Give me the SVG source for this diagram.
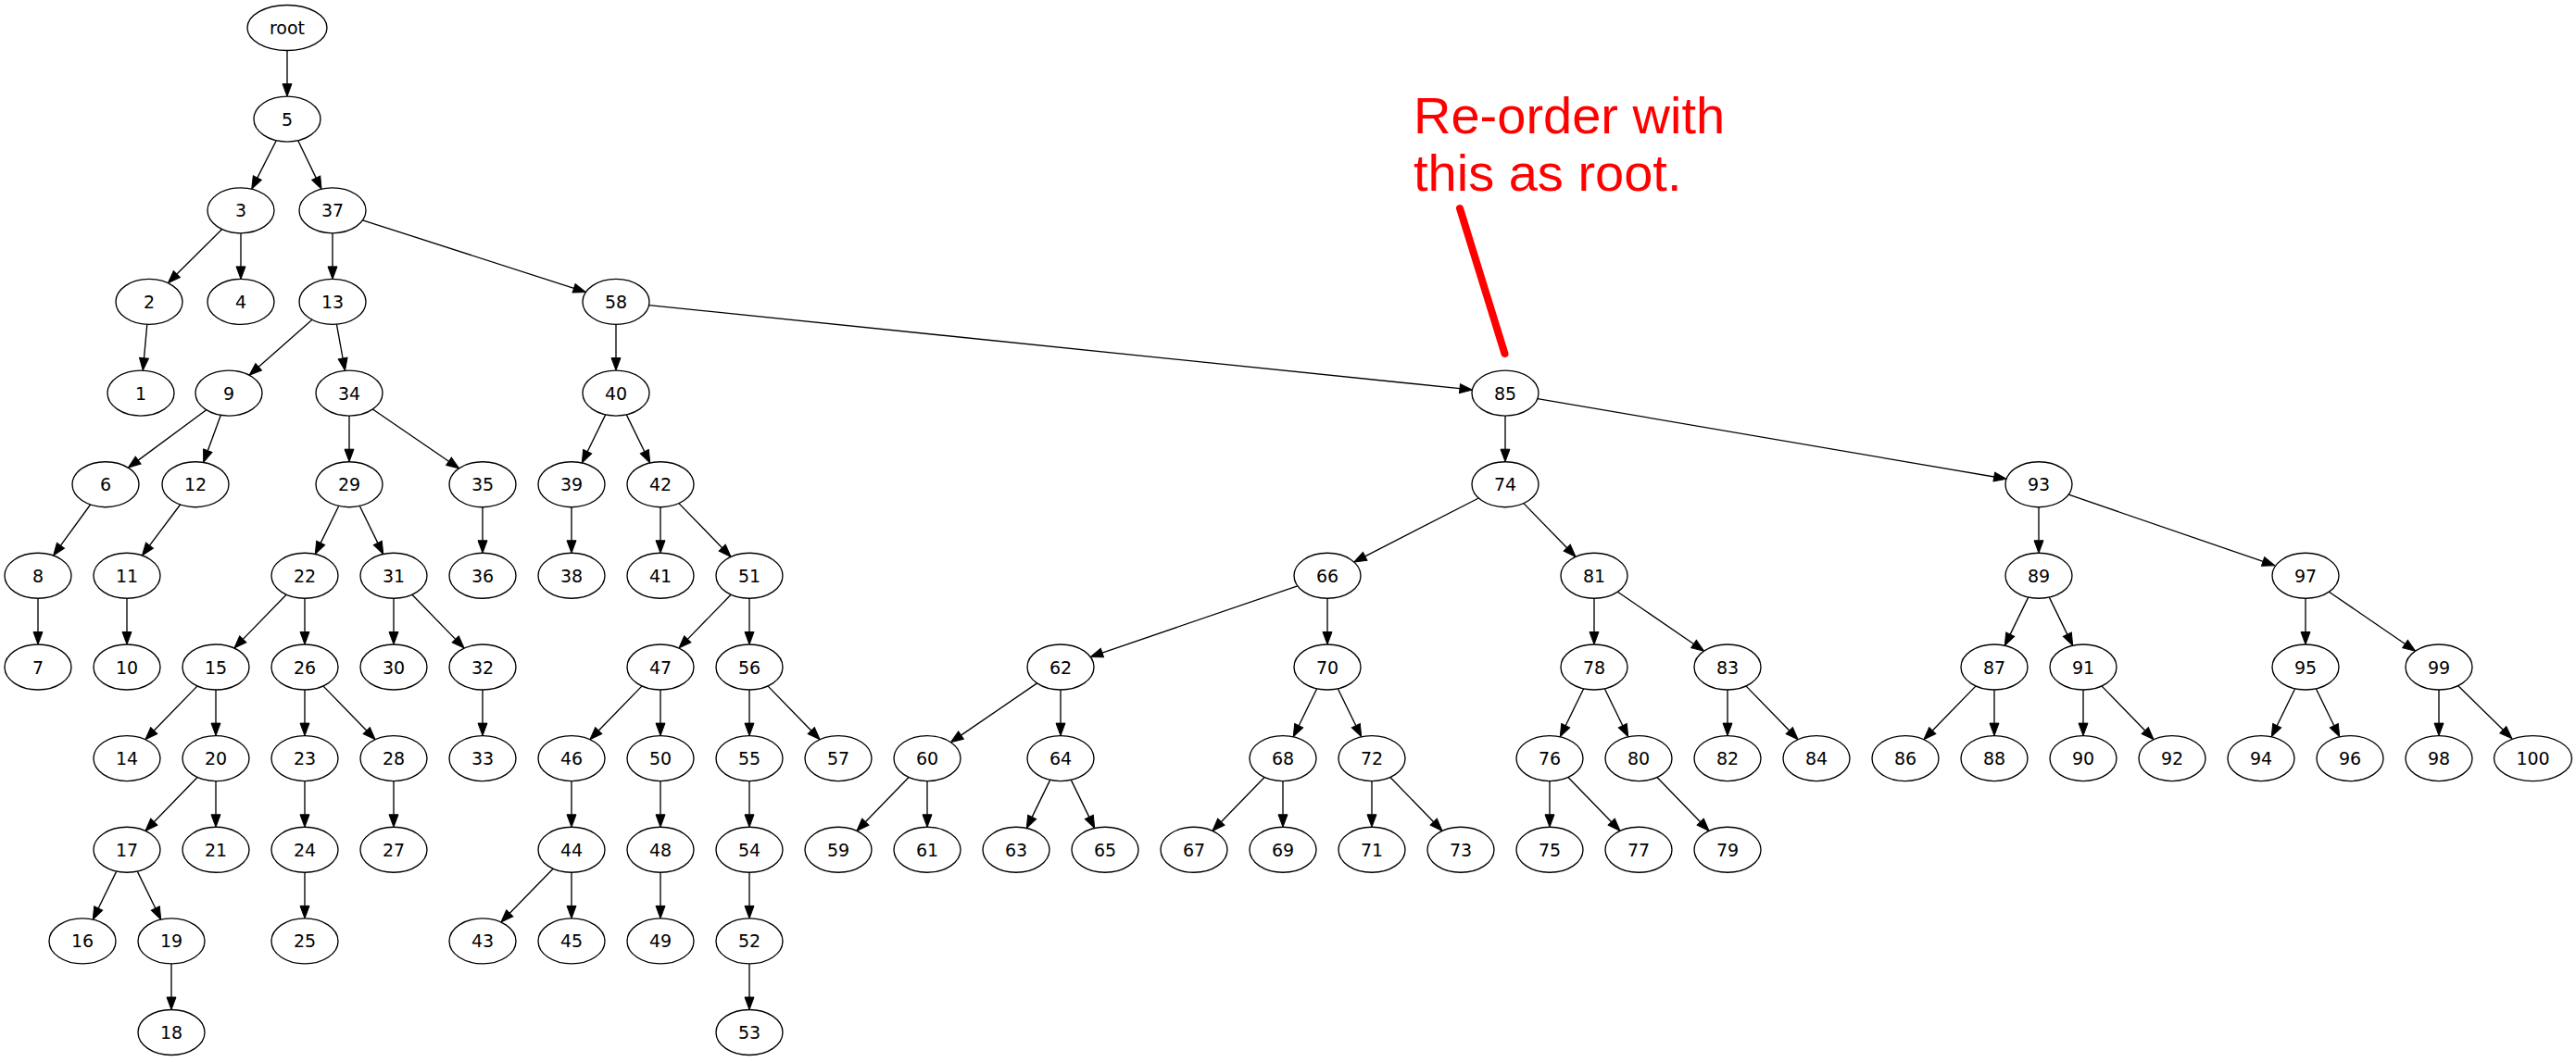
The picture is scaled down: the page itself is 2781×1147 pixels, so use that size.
<svg xmlns="http://www.w3.org/2000/svg" width="2781" height="1147" viewBox="0 0 2781 1147">
<style>
.n ellipse{fill:#fff;stroke:#000;stroke-width:1.35}
.n text{font-family:"DejaVu Sans",sans-serif;font-size:19px;text-anchor:middle;fill:#000}
#edges line{stroke:#000;stroke-width:1.35;marker-end:url(#arr)}
.note{font-family:"Liberation Sans",Arial,sans-serif;font-size:56px;fill:#ff0000}
</style>
<defs>
<marker id="arr" markerUnits="userSpaceOnUse" viewBox="0 -6 14 12" markerWidth="14" markerHeight="12" refX="0" refY="0" orient="auto" overflow="visible">
<path d="M0,-5 L13.5,0 L0,5 Z" fill="#000" stroke="#000" stroke-width="1"/>
</marker>
</defs>
<rect width="2781" height="1147" fill="#fff"/>
<g id="edges">
<line x1="310" y1="54.5" x2="310" y2="90.6"/>
<line x1="298.3" y1="151.8" x2="277.8" y2="192.1"/>
<line x1="321.7" y1="151.8" x2="341.2" y2="192.1"/>
<line x1="239.7" y1="247.5" x2="190.9" y2="296.1"/>
<line x1="260" y1="251.8" x2="260" y2="287.9"/>
<line x1="359" y1="251.8" x2="359" y2="287.9"/>
<line x1="391.5" y1="237.8" x2="619.6" y2="311.3"/>
<line x1="158.8" y1="350.4" x2="155.5" y2="386.7"/>
<line x1="337" y1="345.3" x2="279.2" y2="396.3"/>
<line x1="363.4" y1="350.2" x2="370.1" y2="387"/>
<line x1="665" y1="350.4" x2="665" y2="386.6"/>
<line x1="700.6" y1="329.6" x2="1576" y2="419.6"/>
<line x1="222.7" y1="442.7" x2="149.2" y2="497.1"/>
<line x1="238.3" y1="448.4" x2="224.3" y2="486.7"/>
<line x1="377" y1="449.1" x2="377" y2="485.2"/>
<line x1="402.4" y1="442" x2="484.5" y2="498.2"/>
<line x1="653.7" y1="447.9" x2="634.2" y2="487.8"/>
<line x1="676.3" y1="447.9" x2="695.8" y2="487.8"/>
<line x1="1625" y1="449.1" x2="1625" y2="485.2"/>
<line x1="1659.9" y1="430.6" x2="2152.8" y2="515"/>
<line x1="97.6" y1="545" x2="65.5" y2="589.2"/>
<line x1="194.6" y1="545" x2="161.5" y2="589.2"/>
<line x1="365.7" y1="546.5" x2="346.2" y2="586.4"/>
<line x1="388.3" y1="546.5" x2="407.8" y2="586.4"/>
<line x1="521" y1="547.7" x2="521" y2="583.8"/>
<line x1="617" y1="547.7" x2="617" y2="583.8"/>
<line x1="713" y1="547.7" x2="713" y2="583.8"/>
<line x1="732.9" y1="543.6" x2="779.7" y2="591.7"/>
<line x1="1596.3" y1="538" x2="1473.7" y2="600.9"/>
<line x1="1644.9" y1="543.6" x2="1691.7" y2="591.7"/>
<line x1="2201" y1="547.7" x2="2201" y2="583.8"/>
<line x1="2233.2" y1="534.2" x2="2443.1" y2="606.4"/>
<line x1="41" y1="646.3" x2="41" y2="682.5"/>
<line x1="137" y1="646.3" x2="137" y2="682.5"/>
<line x1="309.1" y1="642.2" x2="262.3" y2="690.4"/>
<line x1="329" y1="646.3" x2="329" y2="682.5"/>
<line x1="425" y1="646.3" x2="425" y2="682.5"/>
<line x1="444.9" y1="642.2" x2="491.7" y2="690.4"/>
<line x1="789.1" y1="642.2" x2="742.3" y2="690.4"/>
<line x1="809" y1="646.3" x2="809" y2="682.5"/>
<line x1="1400.8" y1="632.8" x2="1189.9" y2="705.1"/>
<line x1="1433" y1="646.3" x2="1433" y2="682.5"/>
<line x1="1721" y1="646.3" x2="1721" y2="682.5"/>
<line x1="1746.4" y1="639.2" x2="1828.5" y2="695.5"/>
<line x1="2189.7" y1="645.1" x2="2170.2" y2="685.1"/>
<line x1="2212.3" y1="645.1" x2="2231.8" y2="685.1"/>
<line x1="2489" y1="646.3" x2="2489" y2="682.5"/>
<line x1="2514.4" y1="639.2" x2="2596.5" y2="695.5"/>
<line x1="213.1" y1="740.9" x2="166.3" y2="789"/>
<line x1="233" y1="745" x2="233" y2="781.1"/>
<line x1="329" y1="745" x2="329" y2="781.1"/>
<line x1="348.9" y1="740.9" x2="395.7" y2="789"/>
<line x1="521" y1="745" x2="521" y2="781.1"/>
<line x1="693.1" y1="740.9" x2="646.3" y2="789"/>
<line x1="713" y1="745" x2="713" y2="781.1"/>
<line x1="809" y1="745" x2="809" y2="781.1"/>
<line x1="828.9" y1="740.9" x2="875.7" y2="789"/>
<line x1="1119.6" y1="737.9" x2="1037.5" y2="794.1"/>
<line x1="1145" y1="745" x2="1145" y2="781.1"/>
<line x1="1421.7" y1="743.8" x2="1402.2" y2="783.7"/>
<line x1="1444.3" y1="743.8" x2="1463.8" y2="783.7"/>
<line x1="1709.7" y1="743.8" x2="1690.2" y2="783.7"/>
<line x1="1732.3" y1="743.8" x2="1751.8" y2="783.7"/>
<line x1="1865" y1="745" x2="1865" y2="781.1"/>
<line x1="1884.9" y1="740.9" x2="1931.7" y2="789"/>
<line x1="2133.1" y1="740.9" x2="2086.3" y2="789"/>
<line x1="2153" y1="745" x2="2153" y2="781.1"/>
<line x1="2249" y1="745" x2="2249" y2="781.1"/>
<line x1="2268.9" y1="740.9" x2="2315.7" y2="789"/>
<line x1="2477.7" y1="743.8" x2="2458.2" y2="783.7"/>
<line x1="2500.3" y1="743.8" x2="2519.8" y2="783.7"/>
<line x1="2633" y1="745" x2="2633" y2="781.1"/>
<line x1="2653.6" y1="740.6" x2="2702.3" y2="788.2"/>
<line x1="213.1" y1="839.5" x2="166.3" y2="887.7"/>
<line x1="233" y1="843.6" x2="233" y2="879.8"/>
<line x1="329" y1="843.6" x2="329" y2="879.8"/>
<line x1="425" y1="843.6" x2="425" y2="879.8"/>
<line x1="617" y1="843.6" x2="617" y2="879.8"/>
<line x1="713" y1="843.6" x2="713" y2="879.8"/>
<line x1="809" y1="843.6" x2="809" y2="879.8"/>
<line x1="981.1" y1="839.5" x2="934.3" y2="887.7"/>
<line x1="1001" y1="843.6" x2="1001" y2="879.8"/>
<line x1="1133.7" y1="842.4" x2="1114.2" y2="882.4"/>
<line x1="1156.3" y1="842.4" x2="1175.8" y2="882.4"/>
<line x1="1365.1" y1="839.5" x2="1318.3" y2="887.7"/>
<line x1="1385" y1="843.6" x2="1385" y2="879.8"/>
<line x1="1481" y1="843.6" x2="1481" y2="879.8"/>
<line x1="1500.9" y1="839.5" x2="1547.7" y2="887.7"/>
<line x1="1673" y1="843.6" x2="1673" y2="879.8"/>
<line x1="1692.9" y1="839.5" x2="1739.7" y2="887.7"/>
<line x1="1788.9" y1="839.5" x2="1835.7" y2="887.7"/>
<line x1="125.7" y1="941.1" x2="106.2" y2="981"/>
<line x1="148.3" y1="941.1" x2="167.8" y2="981"/>
<line x1="329" y1="942.3" x2="329" y2="978.4"/>
<line x1="597.1" y1="938.2" x2="550.3" y2="986.3"/>
<line x1="617" y1="942.3" x2="617" y2="978.4"/>
<line x1="713" y1="942.3" x2="713" y2="978.4"/>
<line x1="809" y1="942.3" x2="809" y2="978.4"/>
<line x1="185" y1="1040.9" x2="185" y2="1077"/>
<line x1="809" y1="1040.9" x2="809" y2="1077"/>
</g>
<g id="nodes">
<g id="n-root" class="n" transform="translate(310,30)"><ellipse rx="43" ry="24.5"/><text y="7">root</text></g>
<g id="n5" class="n" transform="translate(310,128.6)"><ellipse rx="36" ry="24.5"/><text y="7">5</text></g>
<g id="n3" class="n" transform="translate(260,227.3)"><ellipse rx="36" ry="24.5"/><text y="7">3</text></g>
<g id="n37" class="n" transform="translate(359,227.3)"><ellipse rx="36" ry="24.5"/><text y="7">37</text></g>
<g id="n2" class="n" transform="translate(161,325.9)"><ellipse rx="36" ry="24.5"/><text y="7">2</text></g>
<g id="n4" class="n" transform="translate(260,325.9)"><ellipse rx="36" ry="24.5"/><text y="7">4</text></g>
<g id="n13" class="n" transform="translate(359,325.9)"><ellipse rx="36" ry="24.5"/><text y="7">13</text></g>
<g id="n58" class="n" transform="translate(665,325.9)"><ellipse rx="36" ry="24.5"/><text y="7">58</text></g>
<g id="n1" class="n" transform="translate(152,424.6)"><ellipse rx="36" ry="24.5"/><text y="7">1</text></g>
<g id="n9" class="n" transform="translate(247,424.6)"><ellipse rx="36" ry="24.5"/><text y="7">9</text></g>
<g id="n34" class="n" transform="translate(377,424.6)"><ellipse rx="36" ry="24.5"/><text y="7">34</text></g>
<g id="n40" class="n" transform="translate(665,424.6)"><ellipse rx="36" ry="24.5"/><text y="7">40</text></g>
<g id="n85" class="n" transform="translate(1625,424.6)"><ellipse rx="36" ry="24.5"/><text y="7">85</text></g>
<g id="n6" class="n" transform="translate(114,523.2)"><ellipse rx="36" ry="24.5"/><text y="7">6</text></g>
<g id="n12" class="n" transform="translate(211,523.2)"><ellipse rx="36" ry="24.5"/><text y="7">12</text></g>
<g id="n29" class="n" transform="translate(377,523.2)"><ellipse rx="36" ry="24.5"/><text y="7">29</text></g>
<g id="n35" class="n" transform="translate(521,523.2)"><ellipse rx="36" ry="24.5"/><text y="7">35</text></g>
<g id="n39" class="n" transform="translate(617,523.2)"><ellipse rx="36" ry="24.5"/><text y="7">39</text></g>
<g id="n42" class="n" transform="translate(713,523.2)"><ellipse rx="36" ry="24.5"/><text y="7">42</text></g>
<g id="n74" class="n" transform="translate(1625,523.2)"><ellipse rx="36" ry="24.5"/><text y="7">74</text></g>
<g id="n93" class="n" transform="translate(2201,523.2)"><ellipse rx="36" ry="24.5"/><text y="7">93</text></g>
<g id="n8" class="n" transform="translate(41,621.8)"><ellipse rx="36" ry="24.5"/><text y="7">8</text></g>
<g id="n11" class="n" transform="translate(137,621.8)"><ellipse rx="36" ry="24.5"/><text y="7">11</text></g>
<g id="n22" class="n" transform="translate(329,621.8)"><ellipse rx="36" ry="24.5"/><text y="7">22</text></g>
<g id="n31" class="n" transform="translate(425,621.8)"><ellipse rx="36" ry="24.5"/><text y="7">31</text></g>
<g id="n36" class="n" transform="translate(521,621.8)"><ellipse rx="36" ry="24.5"/><text y="7">36</text></g>
<g id="n38" class="n" transform="translate(617,621.8)"><ellipse rx="36" ry="24.5"/><text y="7">38</text></g>
<g id="n41" class="n" transform="translate(713,621.8)"><ellipse rx="36" ry="24.5"/><text y="7">41</text></g>
<g id="n51" class="n" transform="translate(809,621.8)"><ellipse rx="36" ry="24.5"/><text y="7">51</text></g>
<g id="n66" class="n" transform="translate(1433,621.8)"><ellipse rx="36" ry="24.5"/><text y="7">66</text></g>
<g id="n81" class="n" transform="translate(1721,621.8)"><ellipse rx="36" ry="24.5"/><text y="7">81</text></g>
<g id="n89" class="n" transform="translate(2201,621.8)"><ellipse rx="36" ry="24.5"/><text y="7">89</text></g>
<g id="n97" class="n" transform="translate(2489,621.8)"><ellipse rx="36" ry="24.5"/><text y="7">97</text></g>
<g id="n7" class="n" transform="translate(41,720.5)"><ellipse rx="36" ry="24.5"/><text y="7">7</text></g>
<g id="n10" class="n" transform="translate(137,720.5)"><ellipse rx="36" ry="24.5"/><text y="7">10</text></g>
<g id="n15" class="n" transform="translate(233,720.5)"><ellipse rx="36" ry="24.5"/><text y="7">15</text></g>
<g id="n26" class="n" transform="translate(329,720.5)"><ellipse rx="36" ry="24.5"/><text y="7">26</text></g>
<g id="n30" class="n" transform="translate(425,720.5)"><ellipse rx="36" ry="24.5"/><text y="7">30</text></g>
<g id="n32" class="n" transform="translate(521,720.5)"><ellipse rx="36" ry="24.5"/><text y="7">32</text></g>
<g id="n47" class="n" transform="translate(713,720.5)"><ellipse rx="36" ry="24.5"/><text y="7">47</text></g>
<g id="n56" class="n" transform="translate(809,720.5)"><ellipse rx="36" ry="24.5"/><text y="7">56</text></g>
<g id="n62" class="n" transform="translate(1145,720.5)"><ellipse rx="36" ry="24.5"/><text y="7">62</text></g>
<g id="n70" class="n" transform="translate(1433,720.5)"><ellipse rx="36" ry="24.5"/><text y="7">70</text></g>
<g id="n78" class="n" transform="translate(1721,720.5)"><ellipse rx="36" ry="24.5"/><text y="7">78</text></g>
<g id="n83" class="n" transform="translate(1865,720.5)"><ellipse rx="36" ry="24.5"/><text y="7">83</text></g>
<g id="n87" class="n" transform="translate(2153,720.5)"><ellipse rx="36" ry="24.5"/><text y="7">87</text></g>
<g id="n91" class="n" transform="translate(2249,720.5)"><ellipse rx="36" ry="24.5"/><text y="7">91</text></g>
<g id="n95" class="n" transform="translate(2489,720.5)"><ellipse rx="36" ry="24.5"/><text y="7">95</text></g>
<g id="n99" class="n" transform="translate(2633,720.5)"><ellipse rx="36" ry="24.5"/><text y="7">99</text></g>
<g id="n14" class="n" transform="translate(137,819.1)"><ellipse rx="36" ry="24.5"/><text y="7">14</text></g>
<g id="n20" class="n" transform="translate(233,819.1)"><ellipse rx="36" ry="24.5"/><text y="7">20</text></g>
<g id="n23" class="n" transform="translate(329,819.1)"><ellipse rx="36" ry="24.5"/><text y="7">23</text></g>
<g id="n28" class="n" transform="translate(425,819.1)"><ellipse rx="36" ry="24.5"/><text y="7">28</text></g>
<g id="n33" class="n" transform="translate(521,819.1)"><ellipse rx="36" ry="24.5"/><text y="7">33</text></g>
<g id="n46" class="n" transform="translate(617,819.1)"><ellipse rx="36" ry="24.5"/><text y="7">46</text></g>
<g id="n50" class="n" transform="translate(713,819.1)"><ellipse rx="36" ry="24.5"/><text y="7">50</text></g>
<g id="n55" class="n" transform="translate(809,819.1)"><ellipse rx="36" ry="24.5"/><text y="7">55</text></g>
<g id="n57" class="n" transform="translate(905,819.1)"><ellipse rx="36" ry="24.5"/><text y="7">57</text></g>
<g id="n60" class="n" transform="translate(1001,819.1)"><ellipse rx="36" ry="24.5"/><text y="7">60</text></g>
<g id="n64" class="n" transform="translate(1145,819.1)"><ellipse rx="36" ry="24.5"/><text y="7">64</text></g>
<g id="n68" class="n" transform="translate(1385,819.1)"><ellipse rx="36" ry="24.5"/><text y="7">68</text></g>
<g id="n72" class="n" transform="translate(1481,819.1)"><ellipse rx="36" ry="24.5"/><text y="7">72</text></g>
<g id="n76" class="n" transform="translate(1673,819.1)"><ellipse rx="36" ry="24.5"/><text y="7">76</text></g>
<g id="n80" class="n" transform="translate(1769,819.1)"><ellipse rx="36" ry="24.5"/><text y="7">80</text></g>
<g id="n82" class="n" transform="translate(1865,819.1)"><ellipse rx="36" ry="24.5"/><text y="7">82</text></g>
<g id="n84" class="n" transform="translate(1961,819.1)"><ellipse rx="36" ry="24.5"/><text y="7">84</text></g>
<g id="n86" class="n" transform="translate(2057,819.1)"><ellipse rx="36" ry="24.5"/><text y="7">86</text></g>
<g id="n88" class="n" transform="translate(2153,819.1)"><ellipse rx="36" ry="24.5"/><text y="7">88</text></g>
<g id="n90" class="n" transform="translate(2249,819.1)"><ellipse rx="36" ry="24.5"/><text y="7">90</text></g>
<g id="n92" class="n" transform="translate(2345,819.1)"><ellipse rx="36" ry="24.5"/><text y="7">92</text></g>
<g id="n94" class="n" transform="translate(2441,819.1)"><ellipse rx="36" ry="24.5"/><text y="7">94</text></g>
<g id="n96" class="n" transform="translate(2537,819.1)"><ellipse rx="36" ry="24.5"/><text y="7">96</text></g>
<g id="n98" class="n" transform="translate(2633,819.1)"><ellipse rx="36" ry="24.5"/><text y="7">98</text></g>
<g id="n100" class="n" transform="translate(2734.5,819.1)"><ellipse rx="42" ry="24.5"/><text y="7">100</text></g>
<g id="n17" class="n" transform="translate(137,917.8)"><ellipse rx="36" ry="24.5"/><text y="7">17</text></g>
<g id="n21" class="n" transform="translate(233,917.8)"><ellipse rx="36" ry="24.5"/><text y="7">21</text></g>
<g id="n24" class="n" transform="translate(329,917.8)"><ellipse rx="36" ry="24.5"/><text y="7">24</text></g>
<g id="n27" class="n" transform="translate(425,917.8)"><ellipse rx="36" ry="24.5"/><text y="7">27</text></g>
<g id="n44" class="n" transform="translate(617,917.8)"><ellipse rx="36" ry="24.5"/><text y="7">44</text></g>
<g id="n48" class="n" transform="translate(713,917.8)"><ellipse rx="36" ry="24.5"/><text y="7">48</text></g>
<g id="n54" class="n" transform="translate(809,917.8)"><ellipse rx="36" ry="24.5"/><text y="7">54</text></g>
<g id="n59" class="n" transform="translate(905,917.8)"><ellipse rx="36" ry="24.5"/><text y="7">59</text></g>
<g id="n61" class="n" transform="translate(1001,917.8)"><ellipse rx="36" ry="24.5"/><text y="7">61</text></g>
<g id="n63" class="n" transform="translate(1097,917.8)"><ellipse rx="36" ry="24.5"/><text y="7">63</text></g>
<g id="n65" class="n" transform="translate(1193,917.8)"><ellipse rx="36" ry="24.5"/><text y="7">65</text></g>
<g id="n67" class="n" transform="translate(1289,917.8)"><ellipse rx="36" ry="24.5"/><text y="7">67</text></g>
<g id="n69" class="n" transform="translate(1385,917.8)"><ellipse rx="36" ry="24.5"/><text y="7">69</text></g>
<g id="n71" class="n" transform="translate(1481,917.8)"><ellipse rx="36" ry="24.5"/><text y="7">71</text></g>
<g id="n73" class="n" transform="translate(1577,917.8)"><ellipse rx="36" ry="24.5"/><text y="7">73</text></g>
<g id="n75" class="n" transform="translate(1673,917.8)"><ellipse rx="36" ry="24.5"/><text y="7">75</text></g>
<g id="n77" class="n" transform="translate(1769,917.8)"><ellipse rx="36" ry="24.5"/><text y="7">77</text></g>
<g id="n79" class="n" transform="translate(1865,917.8)"><ellipse rx="36" ry="24.5"/><text y="7">79</text></g>
<g id="n16" class="n" transform="translate(89,1016.4)"><ellipse rx="36" ry="24.5"/><text y="7">16</text></g>
<g id="n19" class="n" transform="translate(185,1016.4)"><ellipse rx="36" ry="24.5"/><text y="7">19</text></g>
<g id="n25" class="n" transform="translate(329,1016.4)"><ellipse rx="36" ry="24.5"/><text y="7">25</text></g>
<g id="n43" class="n" transform="translate(521,1016.4)"><ellipse rx="36" ry="24.5"/><text y="7">43</text></g>
<g id="n45" class="n" transform="translate(617,1016.4)"><ellipse rx="36" ry="24.5"/><text y="7">45</text></g>
<g id="n49" class="n" transform="translate(713,1016.4)"><ellipse rx="36" ry="24.5"/><text y="7">49</text></g>
<g id="n52" class="n" transform="translate(809,1016.4)"><ellipse rx="36" ry="24.5"/><text y="7">52</text></g>
<g id="n18" class="n" transform="translate(185,1115)"><ellipse rx="36" ry="24.5"/><text y="7">18</text></g>
<g id="n53" class="n" transform="translate(809,1115)"><ellipse rx="36" ry="24.5"/><text y="7">53</text></g>
</g>
<g id="annotation">
<text class="note" x="1526" y="144">Re-order with</text>
<text class="note" x="1526" y="206">this as root.</text>
<line x1="1576" y1="225" x2="1624.5" y2="382" stroke="#ff0000" stroke-width="8" stroke-linecap="round"/>
</g>
</svg>
